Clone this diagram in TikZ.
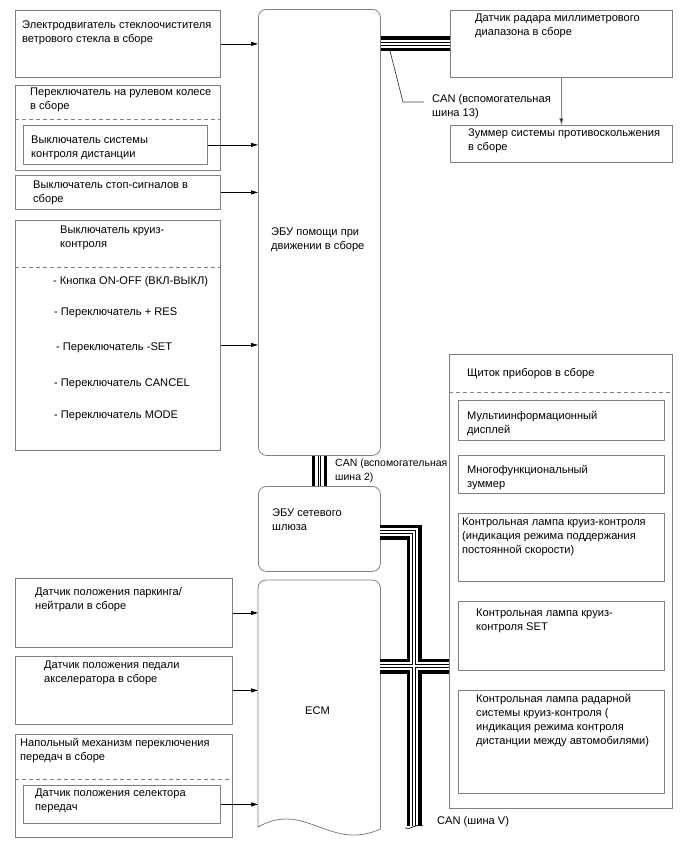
\documentclass[tikz,border=0pt]{standalone}
\usepackage{fontspec}
\setmainfont{Liberation Sans}
\usetikzlibrary{arrows.meta}
\definecolor{bx}{RGB}{128,128,128}
\newcommand\buspaths[1]{%
  \draw[#1] (ecu.east |- radar.west) -- (radar.west);
  \draw[#1] (ecu.south) -- (gw.north);
  \draw[#1] (g1) -- (g2) -- (g3);
  \draw[#1] (e1) -- (e2);
}
\begin{document}
\begin{tikzpicture}[x=1pt,y=-1pt,
  box/.style={draw=bx, line width=0.8pt, anchor=north west, inner sep=0pt},
  txt/.style={anchor=north west, inner sep=0pt, align=left, yshift=8.2pt,
    font=\fontsize{11.1}{14}\selectfont, execute at begin node=\rule{0pt}{8.2pt}},
  dsh/.style={draw=bx, line width=0.8pt, dash pattern=on 4pt off 3pt},
  arr/.style={draw=black, line width=0.8pt, -{Triangle[length=7pt,width=4pt]}},
  thin/.style={draw=black!75, line width=0.7pt}]
\useasboundingbox (0,0) rectangle (688,852);

% ---------- left column ----------
\node[box, minimum width=205pt, minimum height=67pt] (b1) at (15,10) {};
\node[txt] (b1t) at (22,29) {Электродвигатель стеклоочистителя\\ветрового стекла в сборе};

\node[box, minimum width=205pt, minimum height=85pt] (b2) at (15,85) {};
\node[txt] (b2t) at (30,96) {Переключатель на рулевом колесе\\в сборе};
\draw[dsh] (b2.west |- 0,119) -- (b2.east |- 0,119);
\node[box, minimum width=184pt, minimum height=39pt] (b2i) at (23,125) {};
\node[txt] (b2it) at (31,144) {Выключатель системы\\контроля дистанции};

\node[box, minimum width=205pt, minimum height=34pt] (b3) at (15,175) {};
\node[txt] (b3t) at (33,189) {Выключатель стоп-сигналов в\\сборе};

\node[box, minimum width=205pt, minimum height=230pt] (b4) at (15,220) {};
\node[txt] (b4t) at (60,234) {Выключатель круиз-\\контроля};
\draw[dsh] (b4.west |- 0,267) -- (b4.east |- 0,267);
\node[txt] (i1) at (53,284) {- Кнопка ON-OFF (ВКЛ-ВЫКЛ)};
\node[txt] (i2) at (54,315) {- Переключатель + RES};
\node[txt] (i3) at (56,350) {- Переключатель -SET};
\node[txt] (i4) at (54,386) {- Переключатель CANCEL};
\node[txt] (i5) at (54,418) {- Переключатель MODE};

\node[box, minimum width=217pt, minimum height=69pt] (pn) at (15,578) {};
\node[txt] (pnt) at (35,595) {Датчик положения паркинга/\\нейтрали в сборе};

\node[box, minimum width=217pt, minimum height=68pt] (acc) at (15,656) {};
\node[txt] (acct) at (44,669) {Датчик положения педали\\акселератора в сборе};

\node[box, minimum width=217pt, minimum height=103pt] (sh) at (15,734) {};
\node[txt] (sht) at (20,746) {Напольный механизм переключения\\передач в сборе};
\draw[dsh] (sh.west |- 0,779) -- (sh.east |- 0,779);
\node[box, minimum width=197pt, minimum height=38pt] (shi) at (23,785) {};
\node[txt] (shit) at (35,797) {Датчик положения селектора\\передач};

% ---------- centre column ----------
\node[box, rounded corners=8pt, minimum width=122pt, minimum height=446pt] (ecu) at (258,9) {};
\node[txt] (ecut) at (271,236) {ЭБУ помощи при\\движении в сборе};

\node[box, rounded corners=8pt, minimum width=122pt, minimum height=85pt] (gw) at (258,486) {};
\node[txt] (gwt) at (272,517) {ЭБУ сетевого\\шлюза};

\node[anchor=north west, inner sep=0pt, minimum width=122pt, minimum height=250pt] (ecm) at (258,580) {};
\draw[draw=bx, line width=0.8pt, rounded corners=8pt] (ecm.west |- 0,827) -- (ecm.north west) -- (ecm.north east)
  [sharp corners] -- (ecm.east |- 0,829) .. controls (330,852) and (305,800) .. (ecm.west |- 0,827);
\node[txt] (ecmt) at (305,714) {ECM};

% ---------- right column ----------
\node[box, minimum width=222pt, minimum height=67pt] (radar) at (450,10) {};
\node[txt] (radart) at (475,22) {Датчик радара миллиметрового\\диапазона в сборе};
\node[box, minimum width=222pt, minimum height=37pt] (buz) at (450,125) {};
\node[txt] (buzt) at (468,137) {Зуммер системы противоскольжения\\в сборе};

\node[box, minimum width=223pt, minimum height=454pt] (cl) at (449,354) {};
\node[txt] (clt) at (467,376) {Щиток приборов в сборе};
\draw[dsh] (cl.west |- 0,392) -- (cl.east |- 0,392);
\node[box, minimum width=206pt, minimum height=40pt] (mi) at (458,400) {};
\node[txt] (mit) at (467,419) {Мультиинформационный\\дисплей};
\node[box, minimum width=206pt, minimum height=38pt] (mb) at (458,455) {};
\node[txt] (mbt) at (467,473) {Многофункциональный\\зуммер};
\node[box, minimum width=206pt, minimum height=68pt] (cc) at (458,513) {};
\node[txt] (cct) at (462,526) {Контрольная лампа круиз-контроля\\(индикация режима поддержания\\постоянной скорости)};
\node[box, minimum width=206pt, minimum height=69pt] (sl) at (458,601) {};
\node[txt] (slt) at (476,617) {Контрольная лампа круиз-\\контроля SET};
\node[box, minimum width=206pt, minimum height=103pt] (rl) at (458,690) {};
\node[txt] (rlt) at (476,702) {Контрольная лампа радарной\\системы круиз-контроля (\\индикация режима контроля\\дистанции между автомобилями)};

% ---------- arrows ----------
\draw[arr] (b1.east) -- (ecu.west |- b1.east);
\draw[arr] (b2i.east) -- (ecu.west |- b2i.east);
\draw[arr] (b3.east) -- (ecu.west |- b3.east);
\draw[arr] (b4.east |- 0,345) -- (ecu.west |- 0,345);
\draw[arr] (pn.east) -- (ecm.west |- pn.east);
\draw[arr] (acc.east) -- (ecm.west |- acc.east);
\draw[arr] (shi.east) -- (ecm.west |- shi.east);
\draw[draw=bx, line width=0.8pt, -{Triangle[length=7pt,width=4pt,fill=black]}] (radar.south) -- (buz.north);

% ---------- CAN buses ----------
\coordinate (g1) at (380,532);
\coordinate (g2) at (414,532);
\coordinate (g3) at (414,826);
\coordinate (e1) at (380,666);
\coordinate (e2) at (cl.west |- e1);
\buspaths{line width=15pt, black}
\buspaths{line width=8.5pt, white}
\buspaths{line width=3.6pt, black}
\buspaths{line width=1.4pt, white}
\draw[black, line width=0.7pt] (405,828) .. controls (410,831) and (417,822) .. (423,826);

\coordinate (c13) at (390,51);
\draw[thin] (c13) -- (403,102) -- (424,102);
\node[txt] (can13) at (432,102) {CAN (вспомогательная\\шина 13)};
\node[txt, font=\fontsize{10.5}{14}\selectfont] (can2) at (335,467) {CAN (вспомогательная\\шина 2)};
\node[txt] (canv) at (437,824) {CAN (шина V)};
\end{tikzpicture}
\end{document}
